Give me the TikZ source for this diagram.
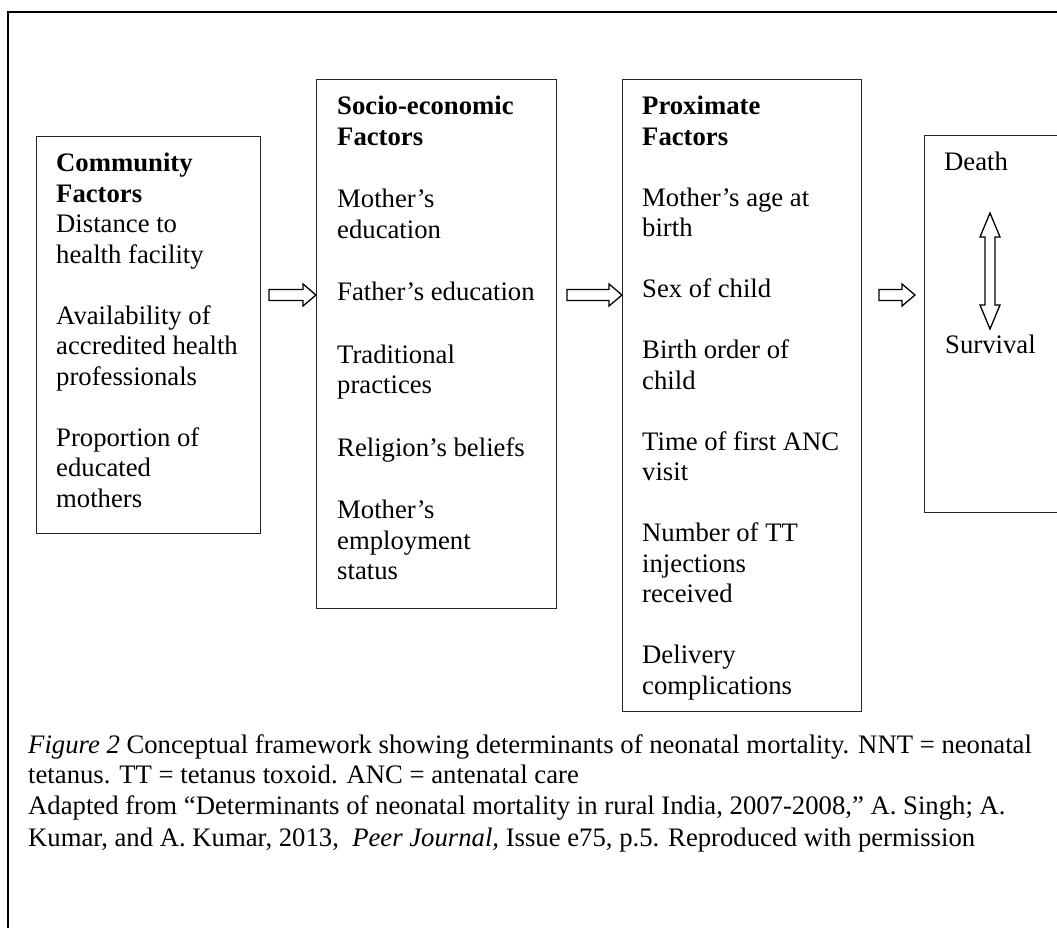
\documentclass[tikz,border=0pt]{standalone}
\usepackage{fontspec}
\setmainfont{Liberation Serif}
\usetikzlibrary{calc,positioning}

\newcommand{\bodysize}{\fontsize{26.7}{30.5}\selectfont}
\newcommand{\gap}{\\[30.5pt]}
\newcommand{\wgap}{\\[32pt]}
% hollow block arrow, left to right
\newcommand{\blockarrow}[2]{%
  \draw[arrowline] let \p1=(#1), \p2=(#2) in
    (\x1,\y1+5.5pt) -- (\x2-13pt,\y1+5.5pt) -- (\x2-13pt,\y1+11pt) -- (\x2,\y1)
    -- (\x2-13pt,\y1-11pt) -- (\x2-13pt,\y1-5.5pt) -- (\x1,\y1-5.5pt) -- cycle;}
% hollow two-way arrow, top to bottom
\newcommand{\twowayarrow}[2]{%
  \draw[arrowline] let \p1=(#1), \p2=(#2) in
    (\x1,\y1) -- (\x1+10pt,\y1-24pt) -- (\x1+5pt,\y1-24pt) -- (\x1+5pt,\y2+24pt)
    -- (\x1+10pt,\y2+24pt) -- (\x2,\y2) -- (\x1-10pt,\y2+24pt) -- (\x1-5pt,\y2+24pt)
    -- (\x1-5pt,\y1-24pt) -- (\x1-10pt,\y1-24pt) -- cycle;}

\begin{document}
\begin{tikzpicture}[x=1pt,y=-1pt,
  box/.style={draw=black!85,line width=1.3pt,inner sep=0pt,anchor=north west},
  boxtext/.style={anchor=north west,inner sep=0pt,align=left,font=\bodysize},
  arrowline/.style={draw=black,line width=1.3pt,line join=miter}]
\useasboundingbox (0,0) rectangle (1057,928);
\clip (0,0) rectangle (1057,928);

\draw[line width=1.3pt] (8,12) rectangle (1070,945);

\node[box,minimum width=224pt,minimum height=397pt] (comm) at (36,136) {};
\node[box,minimum width=240pt,minimum height=529pt] (socio) at (316,79) {};
\node[box,minimum width=239pt,minimum height=632pt] (prox) at (622,79) {};
\node[box,minimum width=150pt,minimum height=377pt] (outcome) at (924,135) {};

\node[boxtext] (commtext) at ($(comm.north west)+(20,14)$)
  {\strut\textbf{Community}\\\textbf{Factors}\\Distance to\\health facility\gap
   Availability of\\accredited health\\professionals\gap
   Proportion of\\educated\\mothers};
\node[boxtext] (sociotext) at ($(socio.north west)+(21,14)$)
  {\strut\textbf{Socio-economic}\\\textbf{Factors}\wgap
   Mother’s\\education\wgap
   Father’s education\wgap
   Traditional\\practices\wgap
   Religion’s beliefs\wgap
   Mother’s\\employment\\status};
\node[boxtext] (proxtext) at ($(prox.north west)+(20,14)$)
  {\strut\textbf{Proximate}\\\textbf{Factors}\gap
   Mother’s age at\\birth\gap
   Sex of child\gap
   Birth order of\\child\gap
   Time of first ANC\\visit\gap
   Number of TT\\injections\\received\gap
   Delivery\\complications};
\node[boxtext] (death) at ($(outcome.north west)+(20,14)$) {\strut Death};
\node[boxtext] (survival) at (945,331.5) {\strut Survival};

\coordinate (a1) at (269,295);
\coordinate (a2) at (567,295);
\coordinate (a3) at (879,295);
\coordinate (a3e) at (915,295);
\coordinate (up) at (990,213);
\coordinate (down) at (990,329);

\blockarrow{a1}{socio.west |- a1}
\blockarrow{a2}{prox.west |- a2}
\blockarrow{a3}{a3e}
\twowayarrow{up}{down}

\node[boxtext] (caption) at (28,731.5)
  {\strut\textit{Figure 2} Conceptual framework showing determinants of neonatal mortality. NNT = neonatal\\
   tetanus. TT = tetanus toxoid. ANC = antenatal care\\
   Adapted from “Determinants of neonatal mortality in rural India, 2007-2008,” A. Singh; A.\\[2pt]
   Kumar, and A. Kumar, 2013, \ \textit{Peer Journal,} Issue e75, p.5. Reproduced with permission};
\end{tikzpicture}
\end{document}
